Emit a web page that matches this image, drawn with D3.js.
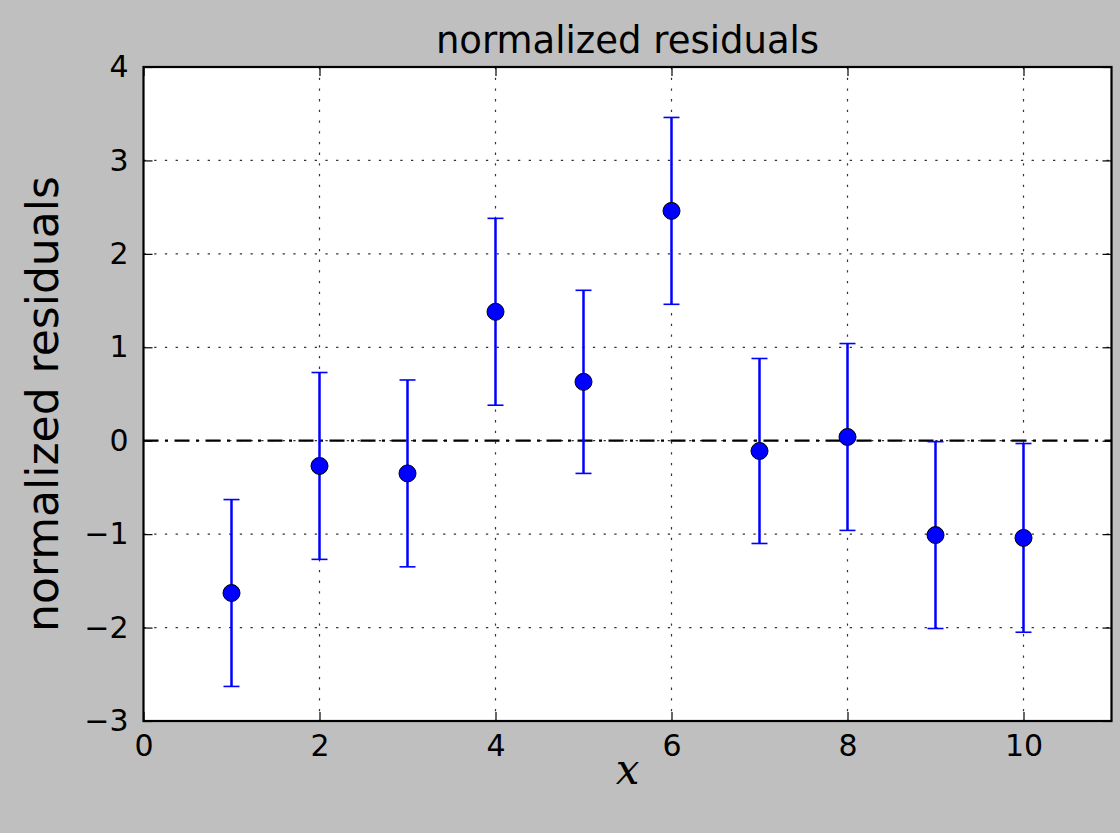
<!DOCTYPE html>
<html>
<head>
<meta charset="utf-8">
<script src="https://cdn.jsdelivr.net/npm/d3@7"></script>
<style>
  html, body { margin: 0; padding: 0; background: #bfbfbf; }
  svg { display: block; font-family: "DejaVu Sans", sans-serif; }
</style>
</head>
<body>
<div id="chart"></div>
<script>
// data
const xValues = [1, 2, 3, 4, 5, 6, 7, 8, 9, 10];
const residuals = [-1.63, -0.27, -0.35, 1.38, 0.63, 2.46, -0.11, 0.04, -1.01, -1.04];
const errors = [1.0, 1.0, 1.0, 1.0, 0.98, 1.0, 0.99, 1.0, 1.0, 1.01];
const xTicks = [0, 2, 4, 6, 8, 10];
const yTicks = [-3, -2, -1, 0, 1, 2, 3, 4];

// canvas
const svgWidth = 1120;
const svgHeight = 833;
const margin = {top: 67, right: 8.5, bottom: 112, left: 143.5};
const width = svgWidth - margin.left - margin.right;
const height = svgHeight - margin.top - margin.bottom;

const svg = d3.select('#chart').append('svg')
    .attr('width', svgWidth).attr('height', svgHeight);

svg.append('rect').attr('width', svgWidth).attr('height', svgHeight).attr('fill', '#bfbfbf');

const chartGroup = svg.append('g').attr('transform', `translate(${margin.left}, ${margin.top})`);

const xScale = d3.scaleLinear().domain([0, 11]).range([0, width]);
const yScale = d3.scaleLinear().domain([-3, 4]).range([height, 0]);

chartGroup.append('rect').attr('width', width).attr('height', height).attr('fill', '#fff');

// grid
const gridStyle = sel => sel.attr('stroke', '#333').attr('stroke-width', 1.2)
    .attr('stroke-dasharray', '2.3,8.4').attr('fill', 'none');

chartGroup.append('g').selectAll('line').data(xTicks.filter(t => t > 0)).enter()
    .append('line')
    .attr('x1', d => xScale(d)).attr('x2', d => xScale(d))
    .attr('y1', 0).attr('y2', height)
    .call(gridStyle);

chartGroup.append('g').selectAll('line').data(yTicks.filter(t => t > -3 && t < 4)).enter()
    .append('line')
    .attr('x1', 0).attr('x2', width)
    .attr('y1', d => yScale(d)).attr('y2', d => yScale(d))
    .call(gridStyle);

// zero line, dash-dot
chartGroup.append('line')
    .attr('x1', 0).attr('x2', width)
    .attr('y1', yScale(0)).attr('y2', yScale(0))
    .attr('stroke', '#000').attr('stroke-width', 2.3)
    .attr('stroke-dasharray', '15,6.5,3,6.5');

// axes: ticks inside on all four sides
const tickLen = 9;
const bottomAxis = d3.axisBottom(xScale).tickValues(xTicks).tickSize(-tickLen).tickPadding(14)
    .tickFormat(d3.format('d'));
const topAxis = d3.axisTop(xScale).tickValues(xTicks).tickSize(-tickLen).tickFormat('');
const leftAxis = d3.axisLeft(yScale).tickValues(yTicks).tickSize(-tickLen).tickPadding(15)
    .tickFormat(d => d < 0 ? '\u2212' + Math.abs(d) : d);
const rightAxis = d3.axisRight(yScale).tickValues(yTicks).tickSize(-tickLen).tickFormat('');

const axes = [
    chartGroup.append('g').attr('transform', `translate(0, ${height})`).call(bottomAxis),
    chartGroup.append('g').call(topAxis),
    chartGroup.append('g').call(leftAxis),
    chartGroup.append('g').attr('transform', `translate(${width}, 0)`).call(rightAxis)
];
axes.forEach(a => {
    a.select('.domain').remove();
    a.selectAll('.tick line').attr('stroke', '#000').attr('stroke-width', 1.2);
    a.selectAll('.tick text').attr('fill', '#000').style('font-size', '30px')
        .style('font-family', '"DejaVu Sans", sans-serif');
});

// points with error bars
const points = chartGroup.append('g').selectAll('g').data(xValues).enter().append('g');
const cap = 8;

points.append('line')
    .attr('x1', d => xScale(d)).attr('x2', d => xScale(d))
    .attr('y1', (d, i) => yScale(residuals[i] + errors[i]))
    .attr('y2', (d, i) => yScale(residuals[i] - errors[i]))
    .attr('stroke', '#0000ff').attr('stroke-width', 2.5);

points.append('line')
    .attr('x1', d => xScale(d) - cap).attr('x2', d => xScale(d) + cap)
    .attr('y1', (d, i) => yScale(residuals[i] + errors[i]))
    .attr('y2', (d, i) => yScale(residuals[i] + errors[i]))
    .attr('stroke', '#0000ff').attr('stroke-width', 1.6);

points.append('line')
    .attr('x1', d => xScale(d) - cap).attr('x2', d => xScale(d) + cap)
    .attr('y1', (d, i) => yScale(residuals[i] - errors[i]))
    .attr('y2', (d, i) => yScale(residuals[i] - errors[i]))
    .attr('stroke', '#0000ff').attr('stroke-width', 1.6);

points.append('circle')
    .attr('cx', d => xScale(d))
    .attr('cy', (d, i) => yScale(residuals[i]))
    .attr('r', 8.5)
    .attr('fill', '#0000ff').attr('stroke', '#000').attr('stroke-width', 1);

// frame
chartGroup.append('rect').attr('width', width).attr('height', height)
    .attr('fill', 'none').attr('stroke', '#000').attr('stroke-width', 2.2);

// labels
svg.append('text')
    .attr('x', margin.left + width / 2).attr('y', 53)
    .attr('text-anchor', 'middle')
    .style('font-size', '37px').attr('fill', '#000')
    .text('normalized residuals');

svg.append('text')
    .attr('transform', `translate(58, ${margin.top + height / 2 + 10}) rotate(-90)`)
    .attr('text-anchor', 'middle')
    .style('font-size', '44px').attr('fill', '#000')
    .text('normalized residuals');

svg.append('text')
    .attr('x', margin.left + width / 2).attr('y', 784)
    .attr('text-anchor', 'middle')
    .style('font-family', '"DejaVu Serif", serif').style('font-style', 'italic')
    .style('font-size', '42px').attr('fill', '#000')
    .text('x');
</script>
</body>
</html>
